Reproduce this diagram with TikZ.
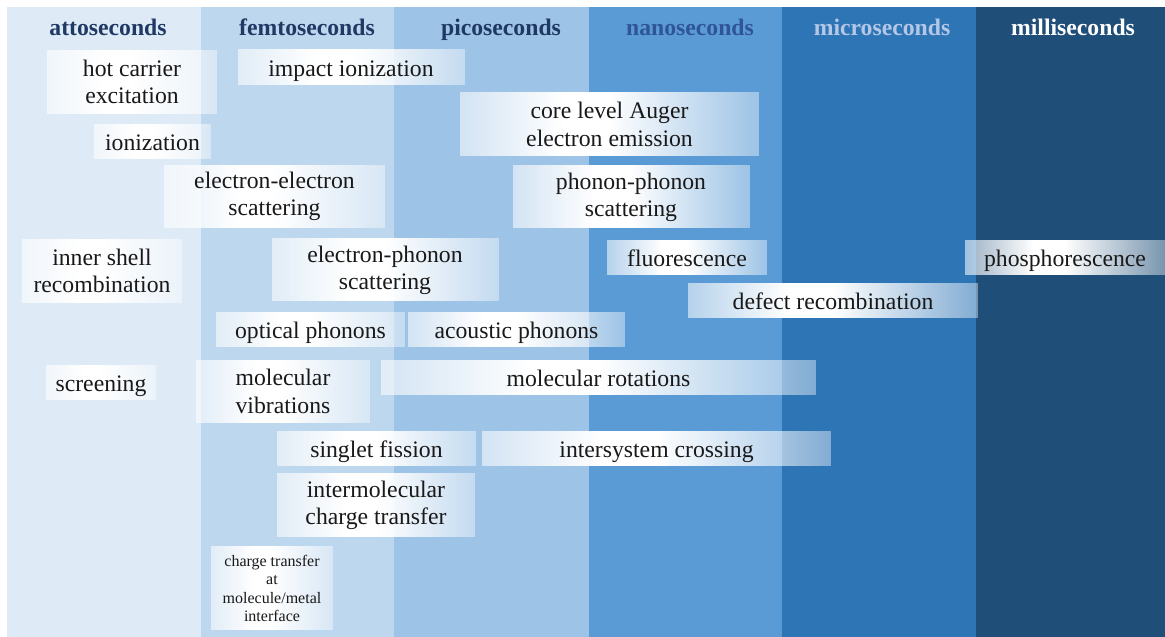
\documentclass[tikz,border=0pt]{standalone}
\usepackage{fontspec}
\setmainfont{Liberation Serif}
\usetikzlibrary{fadings}
% band colours
\definecolor{attoblue}{HTML}{DEEBF7}
\definecolor{femtoblue}{HTML}{BDD7EE}
\definecolor{picoblue}{HTML}{9DC3E6}
\definecolor{nanoblue}{HTML}{5B9BD5}
\definecolor{microblue}{HTML}{2E75B6}
\definecolor{milliblue}{HTML}{1F4E79}
% heading colours
\definecolor{headdark}{HTML}{203864}
\definecolor{headnano}{HTML}{2F5597}
\definecolor{headmicro}{HTML}{B4C7E7}
% white in the middle, see-through at both ends
\pgfdeclarehorizontalshading{boxshade}{100bp}{color(0bp)=(pgftransparent!45); color(25bp)=(pgftransparent!45); color(42bp)=(pgftransparent!0); color(50bp)=(pgftransparent!0); color(75bp)=(pgftransparent!60); color(100bp)=(pgftransparent!60)}
\pgfdeclarefading{boxfade}{\pgfuseshading{boxshade}}
\tikzset{
	heading/.style={anchor=base, font=\fontsize{23.7}{27.3}\selectfont\bfseries},
	procbox/.style={fill=white, path fading=boxfade, inner sep=0pt, align=center, text=black!90, font=\fontsize{23.7}{27.3}\selectfont},
	oneline/.style={procbox, text height=20pt, text depth=2pt, minimum height=35pt},
	smallbox/.style={procbox, font=\fontsize{16}{18.6}\selectfont}
}
\begin{document}
\begin{tikzpicture}[x=1pt,y=-1pt]
		\useasboundingbox (0,0) rectangle (1165,637);
		% Time bands
		\fill[attoblue] (7,7) rectangle (201,637);
		\fill[femtoblue] (201,7) rectangle (394,637);
		\fill[picoblue] (394,7) rectangle (589,637);
		\fill[nanoblue] (589,7) rectangle (782,637);
		\fill[microblue] (782,7) rectangle (975.5,637);
		\fill[milliblue] (975.5,7) rectangle (1165,637);
		% Headings
		\node[heading,text=headdark] (atto) at (108,35) {attoseconds};
		\node[heading,text=headdark] (femto) at (307,35) {femtoseconds};
		\node[heading,text=headdark] (pico) at (501,35) {picoseconds};
		\node[heading,text=headnano] (nano) at (690,35) {nanoseconds};
		\node[heading,text=headmicro] (micro) at (882,35) {microseconds};
		\node[heading,text=white] (milli) at (1073,35) {milliseconds};
		% Carrier processes
		\node[procbox,minimum width=170pt,minimum height=64pt] (hotcarrier) at (132,82) {hot carrier\\excitation};
		\node[oneline,minimum width=227pt] (impact) at (351,67) {impact ionization};
		\node[oneline,minimum width=117pt] (ionization) at (152.5,141) {ionization};
		\node[procbox,minimum width=299pt,minimum height=64pt] (auger) at (609.5,124.5) {core level Auger\\electron emission};
		\node[procbox,minimum width=221pt,minimum height=63pt] (eescatter) at (274.5,196.5) {electron-electron\\scattering};
		\node[procbox,minimum width=237pt,minimum height=63pt] (ppscatter) at (631,197) {phonon-phonon\\scattering};
		\node[procbox,minimum width=160pt,minimum height=64pt] (innershell) at (102,271) {inner shell\\recombination};
		\node[procbox,minimum width=227pt,minimum height=63pt] (epscatter) at (385,270) {electron-phonon\\scattering};
		% Emission
		\node[oneline,minimum width=160pt] (fluor) at (687,257) {fluorescence};
		\node[oneline,minimum width=200pt] (phosphor) at (1065,257.5) {phosphorescence};
		\node[oneline,minimum width=290pt] (defect) at (833,300) {defect recombination};
		% Lattice and molecules
		\node[oneline,minimum width=189pt] (optical) at (310.5,329.5) {optical phonons};
		\node[oneline,minimum width=217pt] (acoustic) at (516.5,329.5) {acoustic phonons};
		\node[oneline,minimum width=110pt] (screening) at (101,382) {screening};
		\node[procbox,minimum width=174pt,minimum height=63pt] (molvib) at (283,391.5) {molecular\\vibrations};
		\node[oneline,minimum width=435pt] (molrot) at (598.5,377) {molecular rotations};
		\node[oneline,minimum width=199pt] (singlet) at (376.5,448.5) {singlet fission};
		\node[oneline,minimum width=349pt] (isc) at (656.5,448.5) {intersystem crossing};
		\node[procbox,minimum width=198pt,minimum height=64pt] (interct) at (376,505) {intermolecular\\charge transfer};
		\node[smallbox,minimum width=122pt,minimum height=84pt] (metalct) at (272,588.5) {charge transfer\\at\\molecule/metal\\interface};
\end{tikzpicture}
\end{document}
